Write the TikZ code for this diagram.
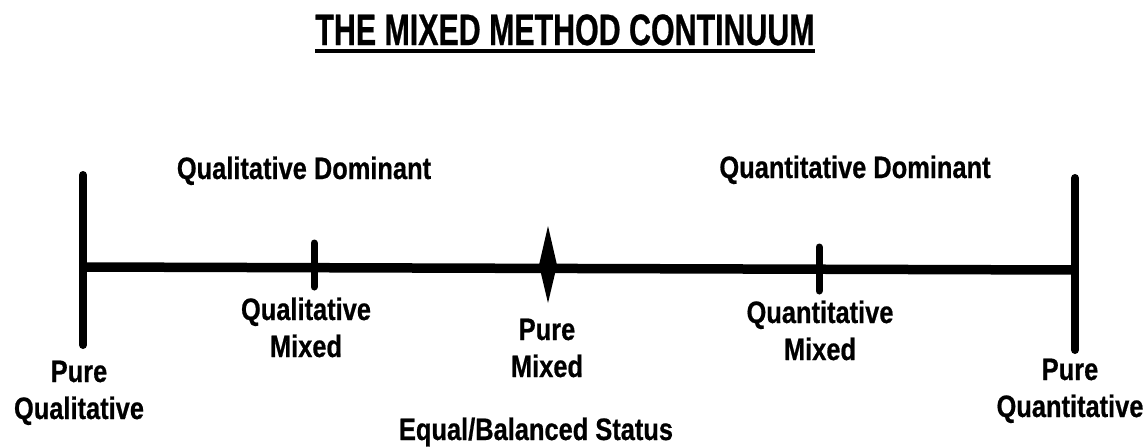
\documentclass[tikz,border=0pt]{standalone}
\usepackage{fontspec}
\newfontfamily\lblfont{Liberation Sans}[FakeStretch=0.82,FakeBold=0.6]
\newfontfamily\titlefont{Liberation Sans}[FakeStretch=0.69,FakeBold=0.6]
\begin{document}
\begin{tikzpicture}[x=1pt,y=-1pt,
  lbl/.style={font=\lblfont\bfseries\fontsize{31}{37}\selectfont, align=center, inner sep=0pt, anchor=base},
  bar/.style={line width=8pt, line cap=round},
  axis/.style={line width=9.5pt},
  tick/.style={line width=7pt, line cap=round}]
\useasboundingbox (0,0) rectangle (1147,447);
% title
\node[inner sep=0pt, anchor=base, font=\titlefont\bfseries\fontsize{44}{48}\selectfont] (title) at (565,45) {THE MIXED METHOD CONTINUUM};
\draw[line width=4pt] ([yshift=-6pt]title.base west) -- ([yshift=-6pt]title.base east);
% axis
\coordinate (lt) at (83,175);
\coordinate (lb) at (83,345);
\coordinate (rt) at (1075,178);
\coordinate (rb) at (1075,350);
\coordinate (lm) at (83,267);
\coordinate (rm) at (1075,270);
\draw[axis] (lm) -- (rm);
\draw[bar] (lt) -- (lb);
\draw[bar] (rt) -- (rb);
\coordinate (t1a) at (314,243);
\coordinate (t1b) at (314,287);
\coordinate (t2a) at (819,247);
\coordinate (t2b) at (819,291);
\draw[tick] (t1a) -- (t1b);
\draw[tick] (t2a) -- (t2b);
\coordinate (dt) at (548,226);
\coordinate (dr) at (557,265);
\coordinate (db) at (548,303);
\coordinate (dl) at (539,265);
\fill (dt) -- (dr) -- (db) -- (dl) -- cycle;
% labels (base = baseline of last line)
\node[lbl] (qldom) at (304,179) {Qualitative Dominant};
\node[lbl] (qndom) at (855,178) {Quantitative Dominant};
\node[lbl] (qlmix) at (306,357) {Qualitative\\Mixed};
\node[lbl] (purmix) at (547,377) {Pure\\Mixed};
\node[lbl] (qnmix) at (820,360) {Quantitative\\Mixed};
\node[lbl] (purql) at (79,419) {Pure\\Qualitative};
\node[lbl] (purqn) at (1070,417) {Pure\\Quantitative};
\node[lbl] (equal) at (536,440) {Equal/Balanced Status};
\end{tikzpicture}
\end{document}
